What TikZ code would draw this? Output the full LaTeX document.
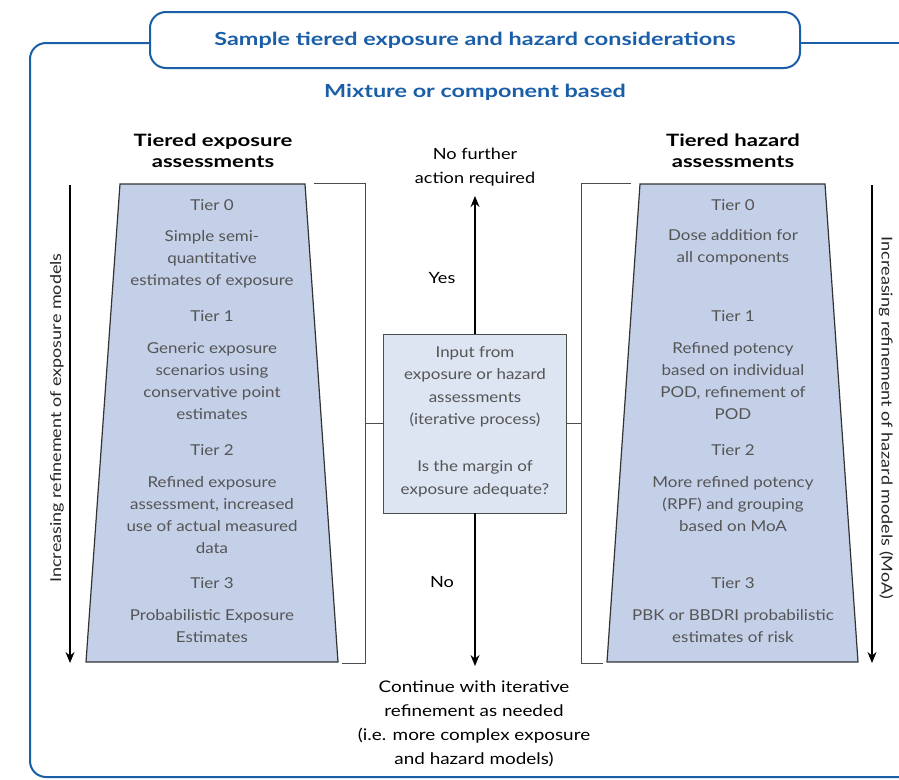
\documentclass[tikz,border=0pt]{standalone}
\usepackage{fontspec}
\setmainfont{Lato}
\newfontfamily\tierfont{Lato}[FakeStretch=1.13]
\newfontfamily\midfont{Lato}[FakeStretch=1.17]
\newfontfamily\botfont{Lato}[FakeStretch=1.18]
\newfontfamily\rotfont{Lato}[FakeStretch=1.2]
\newfontfamily\headfont{Lato}[FakeStretch=1.3]
\usetikzlibrary{arrows.meta}
\definecolor{frameblue}{HTML}{1B5EA8}
\definecolor{trapfill}{HTML}{C3D0E8}
\definecolor{boxfill}{HTML}{DDE4F2}
\definecolor{txtgray}{HTML}{555555}
\tikzset{
  frame/.style={draw=frameblue, line width=2pt},
  trap/.style={fill=trapfill, draw=black!80, line width=1.2pt},
  brack/.style={draw=black!70, line width=0.9pt},
  bigarrow/.style={draw=black, line width=1.4pt, -{Stealth[length=11pt,width=9pt]}},
  tiertext/.style={text=txtgray, font=\tierfont\fontsize{15}{22}\selectfont, align=center, inner sep=0pt},
  headtext/.style={font=\headfont\bfseries\fontsize{17}{21}\selectfont, align=center, inner sep=0pt},
  midtext/.style={font=\midfont\fontsize{15.5}{23.5}\selectfont, align=center, inner sep=0pt},
  rottext/.style={font=\rotfont\fontsize{15}{18}\selectfont, text=black!85, inner sep=0pt},
  bluetitle/.style={text=frameblue, font=\headfont\bfseries\fontsize{18}{20}\selectfont, inner sep=0pt}
}
\begin{document}
\begin{tikzpicture}[x=1pt,y=-1pt]
\useasboundingbox (0,0) rectangle (899,779);
% outer frame
\node[frame, rounded corners=16pt, minimum width=650pt, minimum height=56pt, inner sep=0pt] (title) at (475,40) {};
\node[bluetitle] (titletext) at (475,40) {Sample tiered exposure and hazard considerations};
\coordinate (fr) at (899,43);
\coordinate (fbl) at (899,777);
\draw[frame, rounded corners=16pt] (title.west |- 0,43) -- (30,43) -- (30,777) -- (fbl);
\draw[frame] (title.east |- 0,43) -- (fr);
\node[bluetitle] (mix) at (475,92) {Mixture or component based};
% headers
\node[headtext] (lhead) at (213,151) {Tiered exposure\\assessments};
\node[headtext] (rhead) at (733,151) {Tiered hazard\\assessments};
% left trapezoid
\coordinate (ltl) at (120,184); \coordinate (ltr) at (305,184);
\coordinate (lbr) at (338,662); \coordinate (lbl) at (86,662);
\draw[trap] (ltl) -- (ltr) -- (lbr) -- (lbl) -- cycle;
% right trapezoid
\coordinate (rtl) at (640,184); \coordinate (rtr) at (825,184);
\coordinate (rbr) at (858,662); \coordinate (rbl) at (607,662);
\draw[trap] (rtl) -- (rtr) -- (rbr) -- (rbl) -- cycle;
% left texts
\node[tiertext] (l0) at (212,205) {Tier 0};
\node[tiertext] (l0t) at (212,259) {Simple semi-\\quantitative\\estimates of exposure};
\node[tiertext] (l1) at (212,316) {Tier 1};
\node[tiertext] (l1t) at (212,381) {Generic exposure\\scenarios using\\conservative point\\estimates};
\node[tiertext] (l2) at (212,450) {Tier 2};
\node[tiertext] (l2t) at (212,515) {Refined exposure\\assessment, increased\\use of actual measured\\data};
\node[tiertext] (l3) at (212,583) {Tier 3};
\node[tiertext] (l3t) at (212,626) {Probabilistic Exposure\\Estimates};
% right texts
\node[tiertext] (r0) at (733,205) {Tier 0};
\node[tiertext] (r0t) at (733,247) {Dose addition for\\all components};
\node[tiertext] (r1) at (733,316) {Tier 1};
\node[tiertext] (r1t) at (733,381) {Refined potency\\based on individual\\POD, refinement of\\POD};
\node[tiertext] (r2) at (733,450) {Tier 2};
\node[tiertext] (r2t) at (733,504) {More refined potency\\(RPF) and grouping\\based on MoA};
\node[tiertext] (r3) at (733,583) {Tier 3};
\node[tiertext] (r3t) at (733,626) {PBK or BBDRI probabilistic\\estimates of risk};
% side arrows
\coordinate (la1) at (70,185); \coordinate (la2) at (70,663);
\draw[bigarrow] (la1) -- (la2);
\node[rottext, rotate=90] (ltxt) at (57,418) {Increasing refinement of exposure models};
\coordinate (ra1) at (872,185); \coordinate (ra2) at (872,663);
\draw[bigarrow] (ra1) -- (ra2);
\node[rottext, rotate=-90] (rtxt) at (886,418) {Increasing refinement of hazard models (MoA)};
% central box
\node[draw=black!70, line width=0.9pt, fill=boxfill, minimum width=183pt, minimum height=179pt, inner sep=0pt] (q) at (475,423.5) {};
\node[tiertext, font=\tierfont\fontsize{15}{22.5}\selectfont] (qt1) at (475,387) {Input from\\exposure or hazard\\assessments\\(iterative process)};
\node[tiertext, font=\tierfont\fontsize{15}{22.5}\selectfont] (qt2) at (475,479) {Is the margin of\\exposure adequate?};
% brackets
\coordinate (lb1) at (314,183); \coordinate (lb2) at (365,183);
\coordinate (lb3) at (365,663); \coordinate (lb4) at (342,663);
\draw[brack] (lb1) -- (lb2) -- (lb3) -- (lb4);
\draw[brack] (q.west) -- (q.west -| lb2);
\coordinate (rb1) at (631,183); \coordinate (rb2) at (581,183);
\coordinate (rb3) at (581,663); \coordinate (rb4) at (603,663);
\draw[brack] (rb1) -- (rb2) -- (rb3) -- (rb4);
\draw[brack] (q.east) -- (q.east -| rb2);
% central arrows
\coordinate (up) at (475,196); \coordinate (dn) at (475,666);
\draw[bigarrow] (q.north) -- (up);
\draw[bigarrow] (q.south) -- (dn);
\node[midtext] (nfa) at (475,167) {No further\\action required};
\node[midtext] (yes) at (442,278) {Yes};
\node[midtext] (no) at (442,582) {No};
\node[midtext, font=\botfont\fontsize{16}{24}\selectfont] (cont) at (474,724) {Continue with iterative\\refinement as needed\\(i.e. more complex exposure\\and hazard models)};
\end{tikzpicture}
\end{document}
